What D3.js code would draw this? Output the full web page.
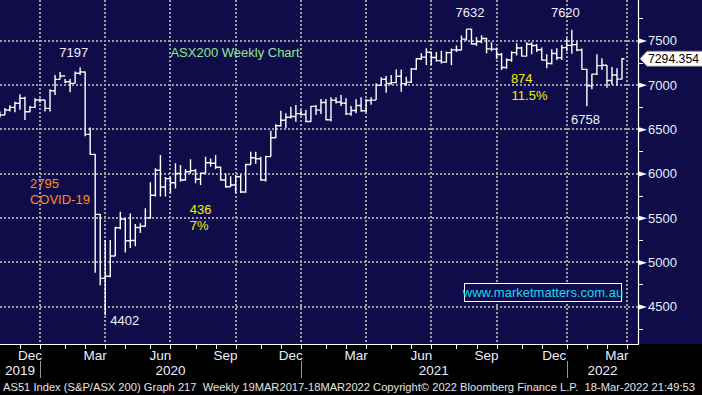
<!DOCTYPE html>
<html>
<head>
<meta charset="utf-8">
<title>ASX200 Weekly Chart</title>
<script src="https://cdnjs.cloudflare.com/ajax/libs/d3/7.8.5/d3.min.js"></script>
<style>
  html, body { margin: 0; padding: 0; background: #000; }
  svg { display: block; }
  text { font-family: "Liberation Sans", Arial, sans-serif; }
  .footer { white-space: pre; }
</style>
</head>
<body>
<div id="chart"></div>
<script>
// weekly bars, first bar is the week ending Fri 1 Nov 2019
var firstWeek = "2019-11-01";
var firstOpen = 6690;

var closes = [
  6660, 6716, 6746, 6792, 6848, 6697, 6746, 6829, 6829,
  6735, 6934, 7062, 7100, 7035, 7017, 7130, 7145, 6441, 6216, 5539, 4817, 4842,
  5070, 5388, 5487, 5242, 5245, 5391, 5405, 5500, 5755, 6036, 5847, 5942, 5896,
  6000, 5927, 6020, 6032, 5935, 6002, 6122, 6115, 6070, 5927, 5851, 5870, 5964,
  5791, 6102, 6177, 6167, 5927, 6190, 6404, 6539, 6601, 6634, 6643, 6675, 6665,
  6587, 6757, 6715, 6800, 6607, 6826, 6806, 6793, 6673, 6711, 6767, 6708, 6824,
  6828, 6995, 7063, 7017, 7025, 7096, 7014, 7031, 7179, 7295, 7312, 7368, 7308,
  7273, 7256, 7363, 7394, 7393, 7516, 7628, 7460, 7488, 7522, 7406, 7403, 7342,
  7196, 7280, 7363, 7415, 7324, 7457, 7443, 7396, 7279, 7241, 7354, 7305, 7420, 7445,
  7453, 7393, 7174, 6988, 7121, 7217, 7221, 7049, 7111, 7064, 7294.354
];
var highs = [
  6700, 6740, 6770, 6810, 6893, 6866, 6760, 6850, 6845,
  6830, 6950, 7111, 7145, 7065, 7065, 7150, 7197, 7150, 6520, 6220, 5543, 5250,
  5250, 5400, 5570, 5495, 5550, 5430, 5440, 5607, 5900, 6060, 6210, 5960, 5960,
  6115, 6096, 6050, 6160, 6050, 6010, 6190, 6170, 6209, 6080, 6000, 5970, 5983,
  5990, 6110, 6246, 6246, 6190, 6200, 6483, 6555, 6708, 6680, 6754, 6773, 6716,
  6716, 6761, 6773, 6840, 6840, 6860, 6860, 6885, 6848, 6760, 6837, 6860, 6840,
  6860, 7017, 7085, 7100, 7111, 7174, 7174, 7090, 7190, 7300, 7355, 7412, 7374,
  7370, 7385, 7375, 7410, 7445, 7555, 7628, 7632, 7540, 7560, 7532, 7480, 7420,
  7360, 7300, 7380, 7470, 7430, 7480, 7480, 7460, 7420, 7344, 7400, 7412, 7449, 7525,
  7620, 7490, 7410, 7180, 7125, 7344, 7300, 7224, 7200, 7186, 7300
];
var lows = [
  6630, 6660, 6700, 6690, 6720, 6603, 6690, 6740, 6800,
  6700, 6700, 6885, 7060, 7017, 6915, 7017, 7111, 6420, 6210, 4880, 4740, 4402,
  4830, 5070, 5370, 5110, 5160, 5180, 5330, 5400, 5490, 5740, 5740, 5740, 5780,
  5830, 5908, 5920, 6000, 5890, 5870, 6000, 6075, 6050, 5920, 5840, 5850, 5776,
  5780, 5784, 6100, 6110, 5919, 5910, 6190, 6400, 6528, 6510, 6620, 6584, 6655,
  6580, 6584, 6660, 6671, 6600, 6590, 6790, 6760, 6660, 6650, 6680, 6697, 6690,
  6775, 6829, 6990, 6911, 7000, 7017, 6923, 6990, 7020, 7170, 7280, 7224, 7224,
  7260, 7240, 7250, 7224, 7370, 7390, 7500, 7455, 7440, 7470, 7356, 7380, 7290,
  7167, 7180, 7260, 7330, 7320, 7320, 7345, 7370, 7275, 7186, 7230, 7280, 7280, 7380,
  7350, 7380, 7170, 6758, 6950, 7111, 7170, 6968, 7000, 6990, 7060
];

var yTicks = [4500, 5000, 5500, 6000, 6500, 7000, 7500];
var yMinor = [4250, 4750, 5250, 5750, 6250, 6750, 7250, 7750];
var quarterNames = { 2: "Mar", 5: "Jun", 8: "Sep", 11: "Dec" };
var years = [2019, 2020, 2021, 2022];
var lastPrice = "7294.354";

var notes = [
  { text: "7197", date: "2020-02-12", value: 7370, color: "#eef2ff", anchor: "middle" },
  { text: "ASX200 Weekly Chart", date: "2020-06-26", value: 7370, color: "#8fe88f", anchor: "start" },
  { text: "7632", date: "2021-08-18", value: 7821, color: "#eef2ff", anchor: "middle" },
  { text: "7620", date: "2021-12-29", value: 7821, color: "#eef2ff", anchor: "middle" },
  { text: "874", date: "2021-10-14", value: 7077, color: "#f2f200", anchor: "start" },
  { text: "11.5%", date: "2021-10-15", value: 6885, color: "#f2f200", anchor: "start" },
  { text: "6758", date: "2022-01-06", value: 6615, color: "#eef2ff", anchor: "start" },
  { text: "2795", date: "2019-12-13", value: 5893, color: "#ff8c1a", anchor: "start" },
  { text: "COVID-19", date: "2019-12-13", value: 5712, color: "#ff8c1a", anchor: "start" },
  { text: "436", date: "2020-07-23", value: 5600, color: "#f2f200", anchor: "start" },
  { text: "7%", date: "2020-07-23", value: 5411, color: "#f2f200", anchor: "start" },
  { text: "4402", date: "2020-04-03", value: 4348, color: "#eef2ff", anchor: "start" }
];

var footer = "AS51 Index (S&P/ASX 200) Graph 217  Weekly 19MAR2017-18MAR2022 Copyright\u00a9 2022 Bloomberg Finance L.P.  18-Mar-2022 21:49:53";

var W = 702, H = 395;
var plotRight = 638, plotBottom = 344;
var navy = "#0f0c49";

var parse = d3.utcParse("%Y-%m-%d");
var start = parse(firstWeek);
var bars = closes.map(function(c, i) {
  return {
    date: d3.utcDay.offset(start, 7 * i),
    open: i === 0 ? firstOpen : closes[i - 1],
    close: c, high: highs[i], low: lows[i]
  };
});

var x = d3.scaleUtc()
  .domain([new Date(Date.UTC(2019, 11, 27)), new Date(Date.UTC(2022, 2, 18))])
  .range([40, 622]);
var y = d3.scaleLinear().domain([4500, 7500]).range([306.5, 40.5]);

// last friday of every month, used for ticks / grid
var monthEnds = d3.utcMonth.range(new Date(Date.UTC(2019, 10, 1)), new Date(Date.UTC(2022, 3, 1)))
  .map(function(m) {
    return d3.utcFriday.floor(d3.utcDay.offset(d3.utcMonth.offset(m, 1), -1));
  });

var svg = d3.select("#chart").append("svg")
  .attr("width", W).attr("height", H);

svg.append("rect").attr("width", W).attr("height", H).attr("fill", "#000");
svg.append("rect").attr("width", W).attr("height", plotBottom).attr("fill", navy);

svg.append("clipPath").attr("id", "plotclip")
  .append("rect").attr("width", plotRight).attr("height", plotBottom);

// grid
var grid = svg.append("g")
  .attr("stroke", "#9c9cab").attr("stroke-width", 2).attr("stroke-dasharray", "2,2");
grid.selectAll(".hg").data(yTicks).enter().append("line")
  .attr("x1", 0).attr("x2", plotRight)
  .attr("y1", function(d) { return Math.round(y(d)); })
  .attr("y2", function(d) { return Math.round(y(d)); });
var quarterEnds = monthEnds.filter(function(d) { return quarterNames[d.getUTCMonth()]; });
grid.selectAll(".vg").data(quarterEnds).enter().append("line")
  .attr("x1", function(d) { return Math.round(x(d)); })
  .attr("x2", function(d) { return Math.round(x(d)); })
  .attr("y1", 0).attr("y2", plotBottom);

// bars
svg.append("g").attr("clip-path", "url(#plotclip)")
  .selectAll("path").data(bars).enter().append("path")
  .attr("fill", "none").attr("stroke", "#fff").attr("stroke-width", 1.4)
  .attr("d", function(d) {
    var bx = x(d.date);
    return "M" + bx + "," + y(d.high) + "V" + y(d.low) +
      "M" + (bx - 2.5) + "," + y(d.open) + "H" + bx +
      "M" + bx + "," + y(d.close) + "H" + (bx + 2.5);
  });

// annotations
svg.append("g").selectAll("text").data(notes).enter().append("text")
  .attr("x", function(d) { return x(parse(d.date)); })
  .attr("y", function(d) { return y(d.value); })
  .attr("dy", "0.35em")
  .attr("text-anchor", function(d) { return d.anchor; })
  .attr("fill", function(d) { return d.color; })
  .attr("font-size", 13)
  .text(function(d) { return d.text; });

// watermark box
var wm = svg.append("g");
wm.append("rect").attr("x", 464.5).attr("y", 283.5).attr("width", 157).attr("height", 18)
  .attr("fill", navy).attr("stroke", "#fff").attr("stroke-width", 1);
wm.append("text").attr("x", 543).attr("y", 292.5).attr("dy", "0.35em")
  .attr("text-anchor", "middle").attr("fill", "#19d9f0").attr("font-size", 13)
  .text("www.marketmatters.com.au");

// right axis
var yAxis = d3.axisRight(y).tickValues(yTicks).tickSize(0).tickPadding(10)
  .tickFormat(d3.format("d"));
var ra = svg.append("g").attr("transform", "translate(" + plotRight + ",0)").call(yAxis);
ra.select(".domain").remove();
ra.selectAll("text").attr("fill", "#e8eeff").attr("font-size", 13)
  .attr("font-family", "'Liberation Sans', Arial, sans-serif");
ra.selectAll(".tick").append("path")
  .attr("d", "M1,-2.5L9,0L1,2.5Z").attr("fill", "#fff");
ra.selectAll(".minor").data(yMinor).enter().append("line")
  .attr("x1", 0).attr("x2", 5)
  .attr("y1", function(d) { return Math.round(y(d)) + 0.5; })
  .attr("y2", function(d) { return Math.round(y(d)) + 0.5; })
  .attr("stroke", "#fff");
svg.append("line").attr("x1", plotRight + 0.5).attr("x2", plotRight + 0.5)
  .attr("y1", 0).attr("y2", plotBottom).attr("stroke", "#fff").attr("stroke-width", 1.2);

// last price tag
var py = y(+lastPrice);
svg.append("path")
  .attr("d", "M640," + py + "L647," + (py - 7.5) + "H705V" + (py + 7.5) + "H647Z")
  .attr("fill", "#fff").attr("stroke", "#888").attr("stroke-width", 0.8);
svg.append("text").attr("x", 648).attr("y", py).attr("dy", "0.36em")
  .attr("fill", "#000").attr("font-size", 12.5)
  .attr("textLength", 51).attr("lengthAdjust", "spacingAndGlyphs")
  .text(lastPrice);

// bottom axis
svg.append("line").attr("x1", 0).attr("x2", plotRight + 1)
  .attr("y1", plotBottom + 0.5).attr("y2", plotBottom + 0.5)
  .attr("stroke", "#fff");
svg.append("g").selectAll("line").data(monthEnds).enter().append("line")
  .attr("x1", function(d) { return Math.round(x(d)) + 0.5; })
  .attr("x2", function(d) { return Math.round(x(d)) + 0.5; })
  .attr("y1", plotBottom).attr("y2", plotBottom + 5)
  .attr("stroke", "#fff");

var qLabels = monthEnds.map(function(d, i) {
  var prev = i > 0 ? x(monthEnds[i - 1]) : x(d) - 20;
  return { name: quarterNames[d.getUTCMonth()], cx: (prev + x(d)) / 2 };
}).filter(function(d) { return d.name; });
svg.append("g").selectAll("text").data(qLabels).enter().append("text")
  .attr("x", function(d) { return d.cx; }).attr("y", 355).attr("dy", "0.35em")
  .attr("text-anchor", "middle").attr("fill", "#e8eeff").attr("font-size", 13.5)
  .text(function(d) { return d.name; });

// year row
var yearEnds = years.map(function(yr) {
  return yr < 2022 ? x(d3.utcFriday.floor(new Date(Date.UTC(yr, 11, 31)))) : plotRight;
});
svg.append("g").selectAll("text").data(years).enter().append("text")
  .attr("x", function(d, i) { return ((i ? yearEnds[i - 1] : 0) + yearEnds[i]) / 2; })
  .attr("y", 370).attr("dy", "0.35em")
  .attr("text-anchor", "middle").attr("fill", "#e8eeff").attr("font-size", 13.5)
  .text(function(d) { return d; });
svg.append("g").selectAll("line").data(yearEnds.slice(0, 3)).enter().append("line")
  .attr("x1", function(d) { return Math.round(d) + 0.5; })
  .attr("x2", function(d) { return Math.round(d) + 0.5; })
  .attr("y1", 361).attr("y2", 378).attr("stroke", "#9a9a9a");

// footer
svg.append("text").attr("class", "footer").attr("x", 3).attr("y", 387).attr("dy", "0.35em")
  .attr("fill", "#e4e4e4").attr("font-size", 11.2)
  .attr("textLength", 692).attr("lengthAdjust", "spacingAndGlyphs")
  .text(footer);
</script>
</body>
</html>
